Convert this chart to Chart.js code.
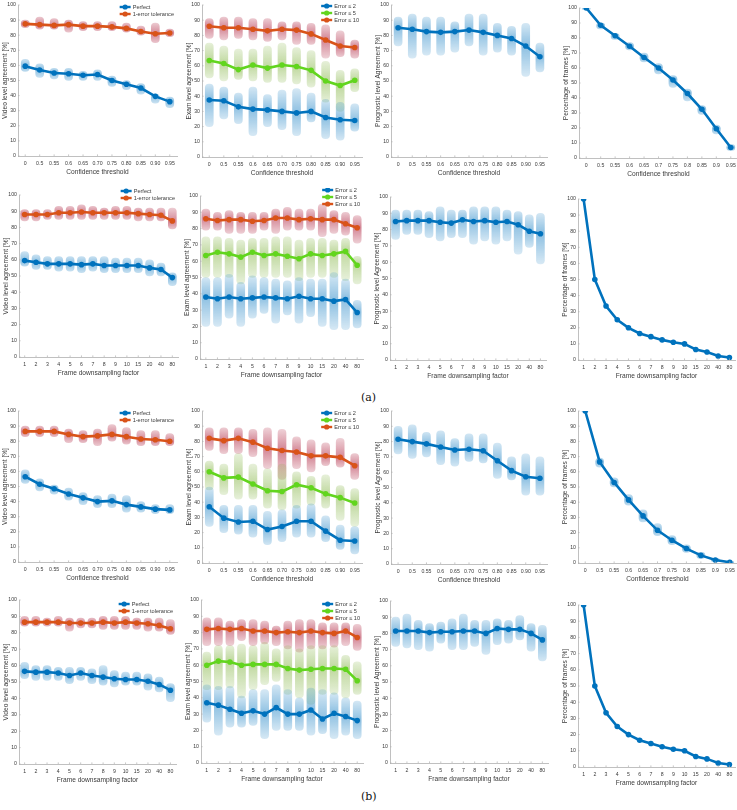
<!DOCTYPE html>
<html>
<head>
<meta charset="utf-8">
<script src="https://cdn.jsdelivr.net/npm/chart.js@4.4.1/dist/chart.umd.min.js"></script>
<style>
  body { margin: 0; background: #fff; overflow: hidden; }
  #fig { position: relative; width: 737px; height: 810px; overflow: hidden; }
  #fig canvas { position: absolute; }
  .tag { position: absolute; font: 11px "DejaVu Serif", "Liberation Serif", serif; color: #111; }
</style>
</head>
<body>
<div id="fig">
  <div class="tag" style="left:361px; top:391px;">(a)</div>
  <div class="tag" style="left:361px; top:790px;">(b)</div>
</div>
<script>
// x categories
const confLabels = ['0', '0.5', '0.55', '0.6', '0.65', '0.70', '0.75', '0.80', '0.85', '0.90', '0.95'];
const confLabelsShort = ['0', '0.5', '0.55', '0.6', '0.65', '0.7', '0.75', '0.8', '0.85', '0.9', '0.95'];
const factorLabels = ['1', '2', '3', '4', '5', '6', '7', '8', '9', '10', '15', '20', '40', '80'];

// (a) confidence threshold: mean, lowest, highest per category
const confA_perfect   = [59.5, 57, 55, 54.5, 53.5, 54, 50, 47.5, 45, 39.5, 36];
const confA_perfectLo = [56, 52, 51, 50, 50, 50, 46, 44, 41, 35, 32];
const confA_perfectHi = [64, 61, 58, 58, 56, 57, 53, 50, 48, 41, 39];
const confA_tol1   = [87.5, 87, 86.5, 87, 86, 86, 85.5, 84.5, 82.5, 81, 81.5];
const confA_tol1Lo = [85, 84, 84, 82, 83, 83, 83, 82, 80, 75, 79];
const confA_tol1Hi = [90, 92, 91, 90, 89, 89, 89, 88, 86, 88, 84];
const confA_err2   = [37.5, 37, 33, 31.5, 31, 30, 29, 30, 26, 24.5, 24];
const confA_err2Lo = [20, 25, 22, 14, 20, 18, 14, 23, 12, 11, 17];
const confA_err2Hi = [48, 46, 42, 46, 41, 44, 45, 42, 38, 36, 35];
const confA_err5   = [63.5, 61.5, 57.5, 60.5, 58.5, 60.5, 59.5, 57, 50, 47, 50.5];
const confA_err5Lo = [52, 50, 51, 50, 49, 49, 48, 46, 36, 30, 43];
const confA_err5Hi = [75, 73, 71, 71, 73, 75, 72, 70, 63, 57, 58];
const confA_err10   = [86, 85, 85, 84, 83, 84, 83.5, 81, 77, 73, 72];
const confA_err10Lo = [78, 77, 78, 77, 76, 77, 74, 74, 65, 66, 65];
const confA_err10Hi = [91, 92, 92, 91, 91, 89, 89, 88, 87, 83, 77];
const confA_prog   = [85, 84, 82.5, 82, 82.5, 83.5, 82, 80, 78, 73, 66];
const confA_progLo = [73, 65, 67, 67, 69, 73, 67, 69, 67, 53, 56];
const confA_progHi = [92, 94, 92, 92, 89, 94, 94, 88, 86, 88, 75];
const confA_frames   = [100, 88.5, 81.5, 74.5, 67, 60, 52, 43, 32.5, 19.5, 7];
const confA_framesLo = [99, 86, 79, 72, 64, 56, 47, 38, 29, 16, 5];
const confA_framesHi = [100, 90, 83, 77, 70, 63, 55, 46, 35, 22, 9];

// (a) frame downsampling factor
const factA_perfect   = [59.5, 58.5, 57.5, 57.5, 57.5, 57, 57.5, 56.5, 56.5, 56.5, 56.5, 55, 54, 49];
const factA_perfectLo = [56, 54, 54, 53, 53, 52, 53, 52, 52, 52, 52, 50, 50, 44];
const factA_perfectHi = [65, 63, 62, 62, 62, 62, 62, 62, 61, 61, 61, 60, 58, 52];
const factA_tol1   = [88, 88, 88, 89, 89, 89.5, 89, 89, 89, 89, 88.5, 88, 87.5, 84];
const factA_tol1Lo = [84, 84, 85, 85, 85, 85, 85, 85, 85, 85, 84, 84, 84, 79];
const factA_tol1Hi = [91, 91, 91, 93, 93, 94, 93, 92, 93, 93, 92, 92, 92, 92];
const factA_err2   = [38, 37, 38, 37, 37.5, 38, 37.5, 37, 38.5, 37, 37, 35.5, 36.5, 28.5];
const factA_err2Lo = [20, 20, 25, 20, 25, 28, 22, 27, 22, 26, 20, 18, 18, 19];
const factA_err2Hi = [50, 50, 52, 47, 51, 50, 49, 48, 50, 49, 49, 53, 49, 36];
const factA_err5   = [63.5, 65.5, 64.5, 62.5, 65.5, 63.5, 64.5, 63, 61.5, 64.5, 63.5, 64.5, 66, 57.5];
const factA_err5Lo = [50, 50, 50, 46, 50, 50, 50, 50, 48, 50, 50, 50, 48, 46];
const factA_err5Hi = [75, 75, 74, 73, 74, 74, 75, 75, 73, 74, 74, 73, 74, 63];
const factA_err10   = [86, 85, 85.5, 85.5, 84.5, 85, 86.5, 86.5, 85.5, 86, 85.5, 85.5, 83, 80.5];
const factA_err10Lo = [79, 79, 77, 77, 77, 79, 77, 79, 79, 79, 75, 77, 76, 71];
const factA_err10Hi = [92, 90, 91, 90, 90, 90, 92, 93, 92, 92, 95, 91, 90, 88];
const factA_prog   = [85, 85.5, 85.5, 85.5, 84.5, 84, 86, 85, 85.5, 84.5, 85, 83, 79, 77.5];
const factA_progLo = [74, 77, 77, 75, 73, 75, 75, 71, 73, 71, 73, 65, 69, 59];
const factA_progHi = [92, 92, 92, 91, 94, 92, 92, 94, 94, 94, 92, 91, 89, 90];
const factA_frames = [100, 50, 33.5, 25, 20, 16.5, 14.5, 12.5, 11, 10, 6.5, 5, 2.5, 1.5];

// (b) confidence threshold
const confB_perfect   = [56.5, 51.5, 48.5, 45, 42.5, 40, 40.5, 38, 36.5, 35, 34.5];
const confB_perfectLo = [52, 47, 45, 41, 38, 36, 36, 33, 33, 32, 32];
const confB_perfectHi = [61, 55, 51, 49, 46, 44, 45, 44, 40, 38, 38];
const confB_tol1   = [86.5, 86.5, 86.5, 84.5, 83, 83.5, 84.5, 83, 81.5, 81, 80];
const confB_tol1Lo = [83, 83, 83, 79, 79, 77, 80, 78, 77, 77, 77];
const confB_tol1Hi = [90, 90, 90, 88, 87, 88, 91, 89, 87, 87, 85];
const confB_err2   = [37, 29.5, 27, 27.5, 22, 24, 27.5, 27.5, 21, 15, 14.5];
const confB_err2Lo = [24, 20, 19, 17, 12, 14, 17, 17, 14, 9, 6];
const confB_err2Hi = [50, 38, 38, 38, 34, 35, 38, 39, 31, 25, 24];
const confB_err5   = [60, 56, 56.5, 52, 47.5, 47, 51.5, 49.5, 45.5, 43, 39.5];
const confB_err5Lo = [48, 45, 42, 42, 36, 35, 36, 38, 36, 28, 24];
const confB_err5Hi = [67, 65, 72, 65, 62, 65, 60, 57, 58, 51, 49];
const confB_err10   = [82, 80.5, 82, 79.5, 75.5, 74, 73, 70.5, 70.5, 69.5, 64];
const confB_err10Lo = [74, 72, 72, 70, 62, 55, 62, 60, 64, 63, 55];
const confB_err10Hi = [89, 89, 89, 88, 89, 88, 83, 81, 79, 82, 72];
const confB_prog   = [81.5, 80, 78.5, 76.5, 74.5, 75, 74, 67.5, 61, 57, 56];
const confB_progLo = [72, 69, 70, 65, 64, 67, 66, 56, 55, 45, 45];
const confB_progHi = [90, 91, 86, 87, 82, 85, 85, 79, 70, 72, 70];
const confB_frames   = [100, 66.5, 53, 41.5, 31, 21.5, 15, 9.5, 5, 2, 0.5];
const confB_framesLo = [100, 63, 50, 38, 27, 18, 12, 7, 3, 1, 0];
const confB_framesHi = [100, 69, 56, 45, 35, 26, 18, 12, 7, 3, 1];

// (b) frame downsampling factor
const factB_perfect   = [56.5, 56, 56, 55.5, 54, 55.5, 54, 53, 52, 51.5, 51.5, 50.5, 48.5, 45];
const factB_perfectLo = [52, 51, 51, 51, 49, 51, 49, 48, 47, 48, 48, 45, 44, 38];
const factB_perfectHi = [62, 60, 60, 59, 59, 59, 58, 60, 57, 56, 56, 55, 53, 49];
const factB_tol1   = [86.5, 86.5, 86.5, 86.5, 86, 86, 86, 86.5, 86, 86.5, 86, 85.5, 84.5, 82.5];
const factB_tol1Lo = [84, 84, 84, 84, 81, 83, 83, 82, 82, 82, 82, 81, 81, 79];
const factB_tol1Hi = [90, 90, 89, 90, 89, 89, 89, 90, 90, 90, 89, 89, 89, 88];
const factB_err2   = [37, 35.5, 33, 30.5, 32, 30, 34, 30, 30, 32.5, 27, 30.5, 28.5, 26];
const factB_err2Lo = [25, 17, 22, 22, 23, 15, 20, 20, 20, 17, 18, 15, 17, 15];
const factB_err2Hi = [48, 47, 47, 41, 45, 45, 48, 45, 40, 46, 45, 43, 40, 38];
const factB_err5   = [60, 62.5, 62, 60, 60.5, 60.5, 60.5, 58, 57, 57.5, 58, 58, 57.5, 50.5];
const factB_err5Lo = [45, 45, 46, 40, 45, 48, 50, 42, 40, 36, 42, 42, 40, 42];
const factB_err5Hi = [68, 72, 72, 73, 72, 74, 70, 72, 70, 72, 72, 72, 66, 62];
const factB_err10   = [82, 82.5, 82, 82.5, 81, 81, 80, 80.5, 80, 81, 80, 79.5, 81, 77];
const factB_err10Lo = [72, 72, 72, 75, 72, 73, 72, 70, 68, 70, 70, 71, 72, 69];
const factB_err10Hi = [89, 89, 87, 88, 88, 87, 84, 87, 88, 88, 86, 86, 86, 85];
const factB_prog   = [81.5, 81.5, 81.5, 80.5, 81, 81, 81.5, 81.5, 80, 83, 82.5, 82.5, 80, 76];
const factB_progLo = [72, 71, 70, 69, 74, 70, 70, 72, 67, 73, 74, 76, 69, 63];
const factB_progHi = [90, 92, 88, 86, 87, 89, 92, 88, 88, 89, 88, 91, 86, 85];
const factB_frames = [100, 50, 33.5, 25, 20, 16.5, 14.5, 12.5, 11, 10, 6.5, 5, 2.5, 1.5];

const yVideo = 'Video level agreement [%]';
const yExam = 'Exam level agreement [%]';
const yProg = 'Prognostic level Agreement [%]';
const yFrames = 'Percentage of frames [%]';
const xConf = 'Confidence threshold';
const xFactor = 'Frame downsampling factor';

const colors = {
  blue:   { line: '#0072BD', rgb: '0,114,189', a: [0.13, 0.45] },
  orange: { line: '#D95319', rgb: '170,20,50', a: [0.15, 0.52] },
  green:  { line: '#62D51E', rgb: '119,172,48', a: [0.14, 0.47] }
};

const FONT = '"Liberation Sans", Arial, sans-serif';
const TEXT = '#3a3a3a';
const AXIS = '#b0b0b0';
const YW = 17, XH = 20, PT = 8, PR = 3;

function S(label, mean, lo, hi, col) {
  return { label, mean, lo, hi, col };
}

// chart area boxes: [left, right, top, bottom]
const panels = [
  { box: [17.7, 178.3, 5, 156], labels: confLabels, yTitle: yVideo, xTitle: xConf, dy: 2,
    series: [S('Perfect', confA_perfect, confA_perfectLo, confA_perfectHi, 'blue'),
             S('1-error tolerance', confA_tol1, confA_tol1Lo, confA_tol1Hi, 'orange')] },
  { box: [201.6, 363.4, 5, 157], labels: confLabels, yTitle: yExam, xTitle: xConf, dy: 1,
    series: [S('Error \u2264 2', confA_err2, confA_err2Lo, confA_err2Hi, 'blue'),
             S('Error \u2264 5', confA_err5, confA_err5Lo, confA_err5Hi, 'green'),
             S('Error \u2264 10', confA_err10, confA_err10Lo, confA_err10Hi, 'orange')] },
  { box: [390.8, 548.2, 5, 157], labels: confLabels, yTitle: yProg, xTitle: xConf,
    series: [S('Prognostic', confA_prog, confA_progLo, confA_progHi, 'blue')] },
  { box: [578.7, 739.3, 8, 158], labels: confLabelsShort, yTitle: yFrames, xTitle: xConf,
    series: [S('Frames', confA_frames, confA_framesLo, confA_framesHi, 'blue')] },

  { box: [19.3, 178.7, 195, 357], labels: factorLabels, yTitle: yVideo, xTitle: xFactor, dy: -4,
    series: [S('Perfect', factA_perfect, factA_perfectLo, factA_perfectHi, 'blue'),
             S('1-error tolerance', factA_tol1, factA_tol1Lo, factA_tol1Hi, 'orange')] },
  { box: [200.2, 363.8, 196, 359], labels: factorLabels, yTitle: yExam, xTitle: xFactor, dy: -6,
    series: [S('Error \u2264 2', factA_err2, factA_err2Lo, factA_err2Hi, 'blue'),
             S('Error \u2264 5', factA_err5, factA_err5Lo, factA_err5Hi, 'green'),
             S('Error \u2264 10', factA_err10, factA_err10Lo, factA_err10Hi, 'orange')] },
  { box: [390.4, 546.6, 197, 360], labels: factorLabels, yTitle: yProg, xTitle: xFactor,
    series: [S('Prognostic', factA_prog, factA_progLo, factA_progHi, 'blue')] },
  { box: [578.4, 735.6, 199, 360], labels: factorLabels, yTitle: yFrames, xTitle: xFactor,
    series: [S('Frames', factA_frames, null, null, 'blue')] },

  { box: [17.7, 178.3, 411, 562], labels: confLabels, yTitle: yVideo, xTitle: xConf, dy: 2,
    series: [S('Perfect', confB_perfect, confB_perfectLo, confB_perfectHi, 'blue'),
             S('1-error tolerance', confB_tol1, confB_tol1Lo, confB_tol1Hi, 'orange')] },
  { box: [201.6, 363.4, 411, 563], labels: confLabels, yTitle: yExam, xTitle: xConf, dy: 2,
    series: [S('Error \u2264 2', confB_err2, confB_err2Lo, confB_err2Hi, 'blue'),
             S('Error \u2264 5', confB_err5, confB_err5Lo, confB_err5Hi, 'green'),
             S('Error \u2264 10', confB_err10, confB_err10Lo, confB_err10Hi, 'orange')] },
  { box: [390.8, 548.2, 411, 564], labels: confLabels, yTitle: yProg, xTitle: xConf,
    series: [S('Prognostic', confB_prog, confB_progLo, confB_progHi, 'blue')] },
  { box: [577.7, 738.3, 411, 563], labels: confLabelsShort, yTitle: yFrames, xTitle: xConf,
    series: [S('Frames', confB_frames, confB_framesLo, confB_framesHi, 'blue')] },

  { box: [19.4, 176.6, 600, 764], labels: factorLabels, yTitle: yVideo, xTitle: xFactor, dy: 4,
    series: [S('Perfect', factB_perfect, factB_perfectLo, factB_perfectHi, 'blue'),
             S('1-error tolerance', factB_tol1, factB_tol1Lo, factB_tol1Hi, 'orange')] },
  { box: [201.2, 363.8, 600, 763], labels: factorLabels, yTitle: yExam, xTitle: xFactor, dy: 4,
    series: [S('Error \u2264 2', factB_err2, factB_err2Lo, factB_err2Hi, 'blue'),
             S('Error \u2264 5', factB_err5, factB_err5Lo, factB_err5Hi, 'green'),
             S('Error \u2264 10', factB_err10, factB_err10Lo, factB_err10Hi, 'orange')] },
  { box: [390.3, 548.7, 601, 763], labels: factorLabels, yTitle: yProg, xTitle: xFactor,
    series: [S('Prognostic', factB_prog, factB_progLo, factB_progHi, 'blue')] },
  { box: [578.4, 735.6, 605, 767], labels: factorLabels, yTitle: yFrames, xTitle: xFactor,
    series: [S('Frames', factB_frames, null, null, 'blue')] }
];

// cloud fill: faint at the extremes, densest around the mean
function cloudFill(c) {
  const ds = c.dataset, raw = c.raw, yScale = c.chart.scales.y;
  const col = colors[ds.cloudCol];
  const flat = 'rgba(' + col.rgb + ',' + ((col.a[0] + col.a[1]) / 2) + ')';
  if (!yScale || !Array.isArray(raw) || raw[1] === raw[0]) return flat;
  const top = yScale.getPixelForValue(raw[1]), bot = yScale.getPixelForValue(raw[0]);
  if (!isFinite(top) || !isFinite(bot) || top === bot) return flat;
  const g = c.chart.ctx.createLinearGradient(0, top - 3, 0, bot + 3);
  let f = (raw[1] - ds.meanData[c.dataIndex]) / (raw[1] - raw[0]);
  f = Math.min(0.95, Math.max(0.05, f));
  g.addColorStop(0, 'rgba(' + col.rgb + ',' + col.a[0] + ')');
  g.addColorStop(f, 'rgba(' + col.rgb + ',' + col.a[1] + ')');
  g.addColorStop(1, 'rgba(' + col.rgb + ',' + col.a[0] + ')');
  return g;
}

// small MATLAB-like legend in the upper right of the axes
const miniLegend = {
  id: 'miniLegend',
  afterDatasetsDraw(chart, args, opts) {
    const items = chart.data.datasets.filter(d => d.inLegend);
    if (!items.length) return;
    const ctx = chart.ctx;
    ctx.save();
    ctx.font = '5.6px ' + FONT;
    const tw = Math.max(...items.map(d => ctx.measureText(d.label).width));
    const x0 = chart.chartArea.right - 3 - tw - 2 - 11;
    items.forEach((d, i) => {
      const y = chart.chartArea.top + opts.dy + i * 7;
      ctx.strokeStyle = d.borderColor;
      ctx.fillStyle = d.borderColor;
      ctx.lineWidth = 2.4;
      ctx.beginPath(); ctx.moveTo(x0, y); ctx.lineTo(x0 + 11, y); ctx.stroke();
      ctx.beginPath(); ctx.arc(x0 + 5.5, y, 2.6, 0, Math.PI * 2); ctx.fill();
      ctx.fillStyle = TEXT;
      ctx.textBaseline = 'middle';
      ctx.fillText(d.label, x0 + 13, y + 0.3);
    });
    ctx.restore();
  }
};

// inward tick marks
const innerTicks = {
  id: 'innerTicks',
  afterDraw(chart) {
    const { x, y } = chart.scales;
    const a = chart.chartArea, ctx = chart.ctx;
    ctx.save();
    ctx.strokeStyle = AXIS; ctx.lineWidth = 0.7;
    ctx.beginPath();
    x.ticks.forEach((t, i) => { const px = x.getPixelForTick(i); ctx.moveTo(px, a.bottom); ctx.lineTo(px, a.bottom - 1.6); });
    y.ticks.forEach((t, i) => { const py = y.getPixelForTick(i); ctx.moveTo(a.left, py); ctx.lineTo(a.left + 1.6, py); });
    ctx.stroke();
    ctx.restore();
  }
};

const fig = document.getElementById('fig');

panels.forEach(p => {
  const [L, R, T, B] = p.box;
  const left = Math.round(L - YW), top = Math.round(T - PT);
  const w = Math.round(R + PR) - left, h = Math.round(B + XH) - top;
  const cv = document.createElement('canvas');
  cv.width = w; cv.height = h;
  cv.style.left = left + 'px'; cv.style.top = top + 'px';
  cv.style.width = w + 'px'; cv.style.height = h + 'px';
  fig.appendChild(cv);

  const datasets = [];
  p.series.forEach(s => {
    if (s.lo) {
      datasets.push({
        type: 'bar', label: s.label + ' spread',
        data: s.lo.map((v, i) => [v, s.hi[i]]),
        meanData: s.mean, cloudCol: s.col,
        backgroundColor: cloudFill, borderWidth: 0,
        borderRadius: 4, borderSkipped: false,
        barThickness: 8, grouped: false, order: 5
      });
    }
  });
  p.series.forEach((s, k) => {
    datasets.push({
      type: 'line', label: s.label, data: s.mean,
      borderColor: colors[s.col].line, backgroundColor: colors[s.col].line,
      borderWidth: 2.6, pointRadius: 2.8, pointBorderWidth: 0,
      pointBackgroundColor: colors[s.col].line, tension: 0,
      inLegend: p.series.length > 1, order: 1 + k
    });
  });

  new Chart(cv, {
    type: 'line',
    data: { labels: p.labels, datasets },
    options: {
      responsive: false, animation: false, devicePixelRatio: 1,
      layout: { padding: { top: PT, right: PR, left: 0, bottom: 0 } },
      plugins: { legend: { display: false }, tooltip: { enabled: false }, miniLegend: { dy: p.dy || 0 } },
      scales: {
        x: {
          type: 'category', offset: true,
          grid: { display: false, drawTicks: false },
          border: { display: true, color: AXIS, width: 0.8 },
          ticks: { font: { family: FONT, size: 5.2 }, color: TEXT, padding: 4, autoSkip: false, maxRotation: 0 },
          title: { display: true, text: p.xTitle, font: { family: FONT, size: 6.6 }, color: TEXT, padding: 0 },
          afterFit(s) { s.height = XH; }
        },
        y: {
          min: 0, max: 100,
          grid: { display: false, drawTicks: false },
          border: { display: true, color: AXIS, width: 0.8 },
          ticks: { stepSize: 10, font: { family: FONT, size: 5.2 }, color: TEXT, padding: 2 },
          title: { display: true, text: p.yTitle, font: { family: FONT, size: 6.6 }, color: TEXT, padding: 0 },
          afterFit(s) { s.width = YW; }
        }
      }
    },
    plugins: [miniLegend, innerTicks]
  });
});
</script>
</body>
</html>
